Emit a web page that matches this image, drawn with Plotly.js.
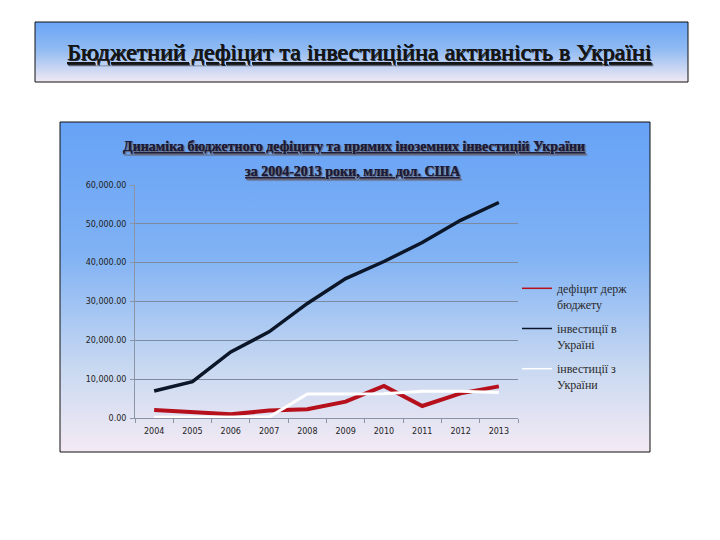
<!DOCTYPE html>
<html>
<head>
<meta charset="utf-8">
<script src="https://cdn.plot.ly/plotly-3.0.1.min.js"></script>
<style>html,body{margin:0;padding:0;background:#fff;}#chart{width:720px;height:540px;}</style>
</head>
<body>
<div id="chart"></div>
<script>
const years = ['2004','2005','2006','2007','2008','2009','2010','2011','2012','2013'];
const deficit = [2060, 1470, 950, 1900, 2240, 4200, 8240, 3090, 6350, 8150];
const inflow = [6950, 9350, 17000, 22200, 29500, 35900, 40300, 45200, 50900, 55500];
const outflow = [170, 200, 220, 240, 6200, 6200, 6230, 6870, 6900, 6580];
const seriesNames = ['дефіцит держ<br>бюджету', 'інвестиції в<br>Україні', 'інвестиції з<br>України'];
const seriesColors = ['#b5101c', '#0b1628', '#ffffff'];
const seriesWidths = [4, 3.5, 3];

function gradURI(stops){
  let s = '<svg xmlns="http://www.w3.org/2000/svg" width="100" height="100" viewBox="0 0 100 100" preserveAspectRatio="none">'+
    '<defs><linearGradient id="g" x1="0" y1="0" x2="0" y2="1">';
  stops.forEach(st => { s += '<stop offset="'+st[0]+'" stop-color="'+st[1]+'"/>'; });
  s += '</linearGradient></defs><rect x="0" y="0" width="100" height="100" fill="url(#g)"/></svg>';
  return 'data:image/svg+xml;charset=utf-8,' + encodeURIComponent(s);
}
const W = 720, H = 540;
const px = x => x / W, py = y => 1 - y / H;

const series = [deficit, inflow, outflow];
const traces = [];
series.forEach((vals, i) => {
  traces.push({x: years, y: vals, name: seriesNames[i], type: 'scatter', mode: 'lines',
    line: {color: seriesColors[i], width: seriesWidths[i]}, showlegend: false, legendgroup: 'g'+i});
});
// legend-only entries with thin key lines, as in the reference
series.forEach((vals, i) => {
  traces.push({x: [null], y: [null], name: seriesNames[i], type: 'scatter', mode: 'lines',
    line: {color: seriesColors[i], width: 1.5}, showlegend: true, legendgroup: 'g'+i});
});

const tickFont = {family: 'DejaVu Sans', size: 8, color: '#222'};
const layout = {
  width: W, height: H,
  margin: {l: 0, r: 0, t: 0, b: 0},
  paper_bgcolor: '#ffffff',
  plot_bgcolor: 'rgba(0,0,0,0)',
  showlegend: true,
  xaxis: {
    type: 'category', domain: [px(135), px(518)], range: [-0.5, 9.5],
    showline: true, linecolor: '#8a94a4', linewidth: 1,
    ticks: 'outside', tickson: 'boundaries', ticklen: 4, tickcolor: '#8a94a4',
    ticklabelstandoff: 5,
    showgrid: false, tickfont: tickFont, fixedrange: true
  },
  yaxis: {
    domain: [py(418), py(185)], range: [0, 60000], dtick: 10000,
    tickformat: ',.2f', showline: true, linecolor: '#8a94a4', linewidth: 1,
    ticks: 'outside', ticklen: 4, tickcolor: '#8a94a4', ticklabelstandoff: 2,
    showgrid: true, gridcolor: '#7d8aa0', gridwidth: 1, zeroline: false,
    tickfont: tickFont, fixedrange: true
  },
  legend: {
    x: px(517), xanchor: 'left', y: py(274), yanchor: 'top',
    bgcolor: 'rgba(0,0,0,0)', valign: 'top', tracegroupgap: 6,
    font: {family: 'Liberation Serif', size: 12, color: '#2a2a2a'}
  },
  images: [
    {source: gradURI([[0,'#6aa5f6'],[0.45,'#8fbaf2'],[1,'#f1e9f4']]),
     xref: 'paper', yref: 'paper', x: px(35), y: py(22), sizex: (688-35)/W, sizey: (82-22)/H,
     sizing: 'stretch', layer: 'below', xanchor: 'left', yanchor: 'top'},
    {source: gradURI([[0,'#66a2f6'],[0.4,'#80b2f4'],[0.75,'#c9d9f1'],[1,'#f4eaf4']]),
     xref: 'paper', yref: 'paper', x: px(60), y: py(122), sizex: (650-60)/W, sizey: (452-122)/H,
     sizing: 'stretch', layer: 'below', xanchor: 'left', yanchor: 'top'}
  ],
  shapes: [
    {type: 'rect', xref: 'paper', yref: 'paper', x0: px(35), x1: px(688), y0: py(22), y1: py(82),
     line: {color: '#111', width: 1}, fillcolor: 'rgba(0,0,0,0)'},
    {type: 'rect', xref: 'paper', yref: 'paper', x0: px(60), x1: px(650), y0: py(122), y1: py(452),
     line: {color: '#111', width: 1}, fillcolor: 'rgba(0,0,0,0)'}
  ],
  annotations: [
    {text: 'Бюджетний дефіцит та інвестиційна активність в Україні',
     xref: 'paper', yref: 'paper', x: px(359), y: py(52), xanchor: 'center', yanchor: 'middle',
     showarrow: false,
     font: {family: 'Liberation Serif', size: 24, color: '#151515', lineposition: 'under', shadow: '1px 1px 0px rgba(0,0,0,0.55)'}},
    {text: 'Динаміка бюджетного дефіциту та прямих іноземних інвестицій України',
     xref: 'paper', yref: 'paper', x: px(354), y: py(146), xanchor: 'center', yanchor: 'middle',
     showarrow: false,
     font: {family: 'Liberation Serif', size: 14, weight: 'bold', color: '#1a1a3a', lineposition: 'under', shadow: '1px 1px 1px #667'}},
    {text: 'за 2004-2013 роки, млн. дол. США',
     xref: 'paper', yref: 'paper', x: px(353), y: py(171), xanchor: 'center', yanchor: 'middle',
     showarrow: false,
     font: {family: 'Liberation Serif', size: 14, weight: 'bold', color: '#1a1a3a', lineposition: 'under', shadow: '1px 1px 1px #667'}}
  ]
};

Plotly.newPlot('chart', traces, layout, {staticPlot: true, displayModeBar: false});
</script>
</body>
</html>
